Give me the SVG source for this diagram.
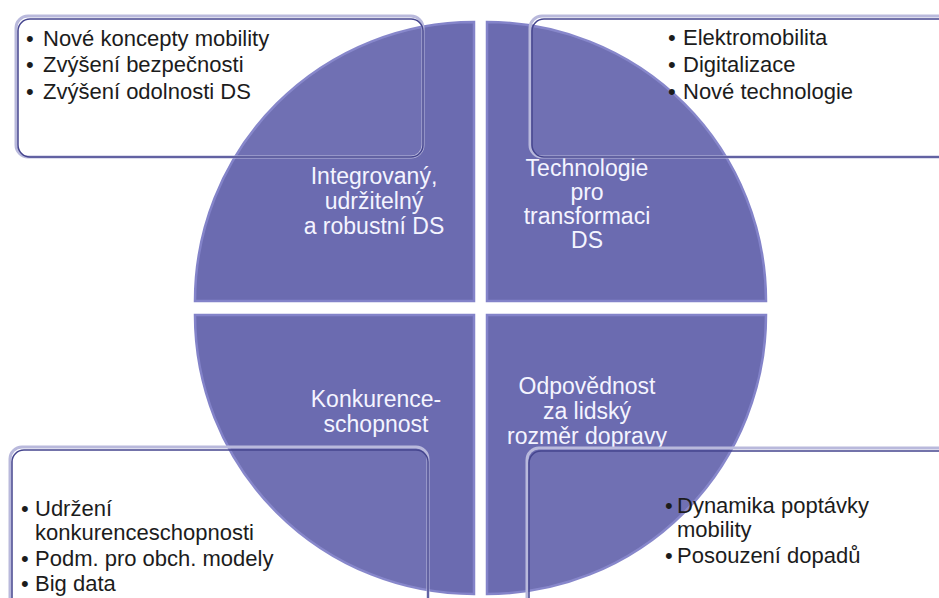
<svg xmlns="http://www.w3.org/2000/svg" width="939" height="598" viewBox="0 0 939 598">
  <style>
    .quad { fill: #6b6bb0; stroke: #8383c9; stroke-width: 2.5; }
    .halo { fill: none; stroke: #b9b9dc; stroke-width: 3; }
    .box { fill: #ffffff; fill-opacity: 0.04; stroke: #45458e; stroke-width: 1.5; }
    .lbl { font-family: "Liberation Sans", Arial, sans-serif; font-size: 23px; fill: #f4f4ff; text-anchor: middle; }
    .item { font-family: "Liberation Sans", Arial, sans-serif; font-size: 22px; fill: #1c1c1c; }
  </style>
  <rect width="939" height="598" fill="#ffffff"/>

  <g id="quadrant-tl">
    <path class="quad" d="M474,301 L195,301 A279,279 0 0 1 474,22 Z"/>
    <text class="lbl"><tspan x="374" y="184">Integrovaný,</tspan><tspan x="374" y="209">udržitelný</tspan><tspan x="374" y="234">a robustní DS</tspan></text>
  </g>
  <g id="quadrant-tr">
    <path class="quad" d="M487,301 L487,22 A279,279 0 0 1 766,301 Z"/>
    <text class="lbl"><tspan x="587" y="176">Technologie</tspan><tspan x="587" y="200">pro</tspan><tspan x="587" y="224">transformaci</tspan><tspan x="587" y="248">DS</tspan></text>
  </g>
  <g id="quadrant-bl">
    <path class="quad" d="M474,315 L474,594 A279,279 0 0 1 195,315 Z"/>
    <text class="lbl"><tspan x="376" y="407">Konkurence-</tspan><tspan x="376" y="432">schopnost</tspan></text>
  </g>
  <g id="quadrant-br">
    <path class="quad" d="M487,315 L766,315 A279,279 0 0 1 487,594 Z"/>
    <text class="lbl"><tspan x="587" y="394">Odpovědnost</tspan><tspan x="587" y="419">za lidský</tspan><tspan x="587" y="444">rozměr dopravy</tspan></text>
  </g>

  <g id="box-tl">
    <rect class="halo" x="16" y="16" width="407" height="141" rx="12"/>
    <rect class="box" x="18" y="19" width="405" height="138" rx="12"/>
    <text class="item"><tspan x="26" y="46">•</tspan><tspan x="43" y="46">Nové koncepty mobility</tspan></text>
    <text class="item"><tspan x="26" y="72">•</tspan><tspan x="43" y="72">Zvýšení bezpečnosti</tspan></text>
    <text class="item"><tspan x="26" y="99">•</tspan><tspan x="43" y="99">Zvýšení odolnosti DS</tspan></text>
  </g>
  <g id="box-tr">
    <rect class="halo" x="530" y="16" width="430" height="141" rx="12"/>
    <rect class="box" x="532" y="19" width="430" height="138" rx="12"/>
    <text class="item"><tspan x="668" y="45">•</tspan><tspan x="683" y="45">Elektromobilita</tspan></text>
    <text class="item"><tspan x="668" y="72">•</tspan><tspan x="683" y="72">Digitalizace</tspan></text>
    <text class="item"><tspan x="668" y="99">•</tspan><tspan x="683" y="99">Nové technologie</tspan></text>
  </g>
  <g id="box-bl">
    <rect class="halo" x="10" y="447" width="418" height="180" rx="12"/>
    <rect class="box" x="12" y="450" width="416" height="180" rx="12"/>
    <text class="item"><tspan x="21" y="516">•</tspan><tspan x="35" y="516">Udržení</tspan><tspan x="35" y="540">konkurenceschopnosti</tspan></text>
    <text class="item"><tspan x="21" y="566">•</tspan><tspan x="35" y="566">Podm. pro obch. modely</tspan></text>
    <text class="item"><tspan x="21" y="591">•</tspan><tspan x="35" y="591">Big data</tspan></text>
  </g>
  <g id="box-br">
    <rect class="halo" x="527" y="448" width="440" height="180" rx="12"/>
    <rect class="box" x="529" y="451" width="440" height="180" rx="12"/>
    <text class="item"><tspan x="665" y="513">•</tspan><tspan x="677" y="513">Dynamika poptávky</tspan><tspan x="677" y="537">mobility</tspan></text>
    <text class="item"><tspan x="665" y="563">•</tspan><tspan x="677" y="563">Posouzení dopadů</tspan></text>
  </g>

  <g id="connectors"/>
</svg>
